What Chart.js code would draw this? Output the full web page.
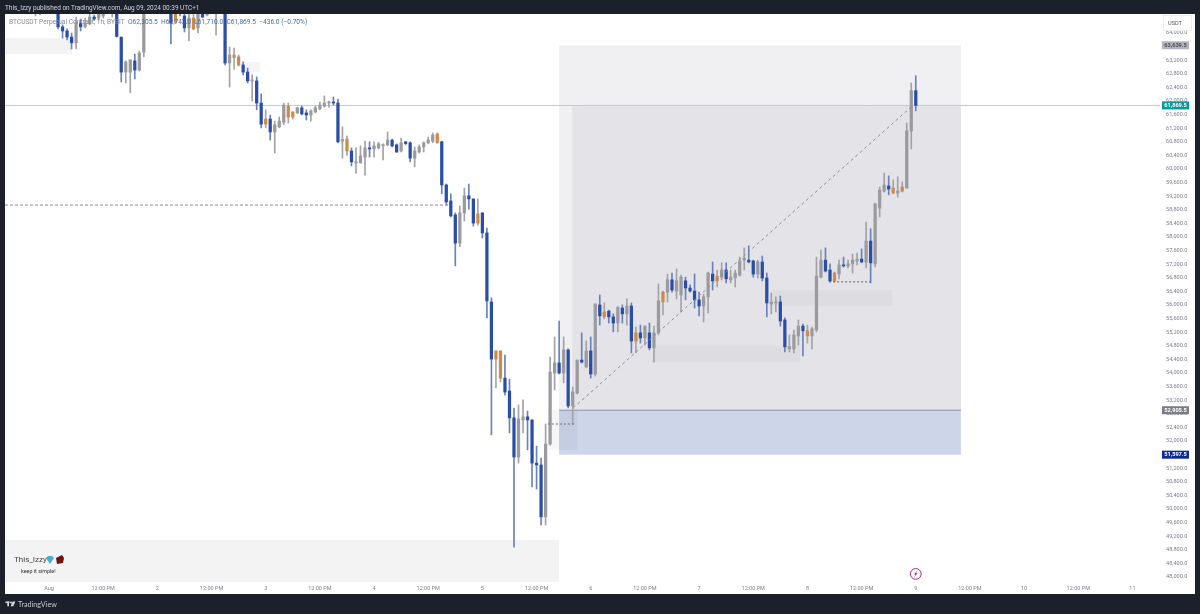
<!DOCTYPE html>
<html><head><meta charset="utf-8"><title>BTCUSDT</title>
<style>
html,body{margin:0;padding:0;background:#1c202b;width:1200px;height:614px;overflow:hidden;font-family:Roboto,sans-serif}
#c{position:absolute;left:0;top:0}
.t{position:absolute;white-space:nowrap;line-height:1}
</style>
<script src="https://cdn.jsdelivr.net/npm/chart.js@4/dist/chart.umd.min.js"></script>
</head><body>
<canvas id="c" width="1200" height="614"></canvas>
<div class="t" style="left:5px;top:4.5px;font-size:6.45px;color:#d1d4dc">This_Izzy published on TradingView.com, Aug 09, 2024 00:39 UTC+1</div>
<div class="t" style="left:9px;top:19px;font-size:6.6px;color:#858a99">BTCUSDT Perpetual Contract, 1h, BYBIT&nbsp;&nbsp;<span style="color:#4a68ad">O62,305.5&nbsp;&nbsp;H62,743.0&nbsp;&nbsp;L61,710.0&nbsp;&nbsp;C61,869.5&nbsp;&nbsp;−436.0 (−0.70%)</span></div>
<div class="t" style="left:14px;top:556px;font-size:8px;color:#444">This_Izzy</div>
<div class="t" style="left:21px;top:569px;font-size:5.4px;color:#333">keep it simple!</div>
<div class="t" style="left:18px;top:600.5px;font-size:7.2px;color:#c5c8d0;font-family:Lato,sans-serif">TradingView</div>
<script>
const firstHour = -3;
const kinds = ("ggnnn"+"bbbbgbggbg"+"gngbbggbgg"+"nnnnn"+"bobbgogbgn"+"gnbgoobbgb"+"bobgggoogb"+"bgggggbbgo"+"bgggbggggb"+"bgbbgggggo"+"bbbbggbbob"+"bboobbbggb"+"bbbgggbgbg"+"gbgbgbobbg"+"bgbobgbggo"+"gbggbbbbgg"+"bogbggggbb"+"gbbggbbggg"+"bogggbbogb"+"gggbgbgggb"+"ogoggb").split("");
const highs = [64800,64800,null,null,null,
64800,64240,64120,64000,64470,64410,64440,64600,64530,64700,
64700,null,64800,64800,63880,63180,63210,63380,63470,64800,
null,null,null,null,null,
64800,64800,64800,64600,64700,64700,64800,64800,64800,null,
64800,null,64800,63590,63560,63350,63150,62970,62770,62710,
62210,61740,61590,61410,61530,61940,61940,61680,61820,61850,
61740,61740,61850,61970,62150,62000,62120,62060,61240,60970,
60620,60620,60680,60820,60800,60800,60780,60740,61090,60880,
60740,60910,60800,60800,60650,60710,60800,60940,61060,61060,
60820,59560,59270,58710,58910,59440,59560,59120,59120,58710,
58265,56210,54650,54650,54530,53820,52970,53060,53210,52880,
52620,51850,51500,52500,54470,55060,55530,55060,54710,53590,
54380,55180,54940,55060,56030,56295,56060,55850,55740,55940,
56000,56180,56060,55350,55410,55380,55470,55380,56620,56410,
56910,56940,57060,56880,56820,56590,56910,56380,56320,56970,
57265,57030,57240,57240,57030,57030,57410,57680,57740,57320,
57320,57440,56940,56350,56240,56265,55620,55120,55265,55560,
55440,55410,55350,57410,57620,57680,57210,56970,57320,57410,
57320,57500,57530,57650,58440,58240,59000,59470,59880,59800,
59680,59770,59620,61350,62530,62743];
const bodyTops = [64800,64800,null,null,null,
64700,64180,64060,63880,64320,64290,64290,64470,64470,64560,
64600,null,64700,64700,63880,63150,63210,63180,63410,64700,
null,null,null,null,null,
64700,64700,64700,64500,64440,64440,64700,64700,64700,null,
64700,null,64700,63350,63350,63300,63060,62850,62620,62590,
61940,61470,61470,61300,61410,61880,61850,61680,61800,61800,
61650,61710,61800,61880,61940,61970,61970,61940,60870,60880,
60530,60210,60380,60620,60620,60680,60740,60720,60850,60850,
60710,60770,60800,60770,60530,60650,60770,60850,61000,61030,
60800,59530,59060,58650,58710,59210,59210,59120,58680,58710,
58120,56090,54650,54650,53850,53470,52680,52650,52710,52710,
52620,51350,51295,51910,54030,54295,54295,54680,54680,53440,
54380,54380,54650,54650,56030,56000,55795,55820,55650,55940,
55910,55970,55970,55180,55180,55380,55180,55180,56120,56380,
56740,56740,56710,56820,56710,56500,56410,56150,56240,56940,
56910,56850,57030,57030,56820,56940,57295,57380,57320,57295,
57265,57265,56795,56090,56090,56090,55560,54770,55120,55380,
55380,55240,55295,56850,57320,57320,57030,56940,57180,57180,
57210,57320,57350,57350,57880,57880,58970,59380,59530,59500,
59440,59350,59470,61120,62305,62305.5];
const bodyBottoms = [64700,64700,null,null,null,
64180,64060,63880,63710,63710,64180,64180,64270,64410,64440,
64500,null,64600,63900,62850,62850,62850,62910,62910,63440,
null,null,null,null,null,
64290,64320,64600,64150,64150,64120,64150,64470,64530,null,
64650,null,63120,63120,63280,63060,62850,62590,62590,61940,
61320,61320,61090,61090,61240,61380,61530,61530,61650,61620,
61590,61590,61680,61770,61850,61940,61940,60800,60820,60530,
60210,60180,60180,60350,60590,60590,60620,60690,60710,60680,
60500,60530,60750,60320,60320,60500,60650,60770,60820,60770,
59530,59030,58620,57820,57820,58710,59120,58410,58410,58120,
56120,54410,54410,53850,53440,52680,51530,51530,52620,52620,
51350,51295,49770,49770,51910,54000,54000,54000,53030,53030,
53410,54320,54180,53970,53970,55680,55650,55650,55470,55470,
55740,55740,54940,54940,55030,55030,54740,54740,55180,56090,
56380,56440,56410,56295,56500,56410,56150,55970,55970,56240,
56710,56710,56820,56770,56740,56795,56880,57320,57265,56910,
56910,56795,56060,56030,56060,55530,54770,54710,54710,55090,
55240,55090,55090,55265,56820,57000,56710,56710,56910,57150,
57150,57210,57295,57265,57265,57240,57210,58850,59350,59410,
59295,59295,59350,59440,61120,61869.5];
const lows = [64500,64530,null,null,null,
64120,63850,63800,63530,63530,64060,64150,64240,64380,64380,
64440,null,64470,63880,62560,62530,62240,62650,62880,63300,
null,null,null,null,null,
63680,64290,64500,64030,63770,64090,64000,64450,64500,null,
63940,null,63060,62410,62940,63030,62770,62530,62000,61740,
61210,61210,60850,60470,61210,61300,61350,61470,61630,61590,
61440,61410,61650,61740,61820,61820,61880,60770,60320,60410,
60090,59880,60170,59820,60350,60350,60590,60270,60680,60650,
60490,60500,60710,60210,60060,60470,60500,60740,60770,60760,
59270,58940,58590,57150,57710,58470,58820,58320,58350,57970,
55620,52180,53560,53740,53350,52240,48880,51350,52240,51740,
50650,50590,49530,49530,51880,53500,53970,53710,52970,52500,
53380,54295,54150,53850,53910,55410,55590,55470,55210,55210,
55470,55410,54590,54590,54880,54820,54680,54320,55120,55710,
56090,56380,56180,55795,56150,56380,55910,55680,55500,55770,
56440,56530,56740,56650,56650,56530,56850,57030,57240,56820,
56795,56710,55650,55740,55795,55380,54620,54620,54590,54820,
54500,54880,54710,55210,56795,56970,56680,56680,56770,57120,
57090,56940,57180,57240,57090,56650,57120,58590,59320,59240,
59270,59180,59320,59440,60590,61710];

const priceTicks = [48000,48400,48800,49200,49600,50000,50400,50800,51200,51600,52000,52400,52800,53200,53600,54000,54400,54800,55200,55600,56000,56400,56800,57200,57600,58000,58400,58800,59200,59600,60000,60400,60800,61200,61600,62000,62400,62800,63200,63600,64000];
const dayLabels = ["Aug","2","3","4","5","6","7","8","9","10","11"];
const halfDayLabel = "12:00 PM";
const timeTicks = [0,12,24,36,48,60,72,84,96,108,120,132,144,156,168,180,192,204,216,228,240];

const targetPrice = 63639.5, lastPrice = 61869.5, entryPrice = 52905.5, stopPrice = 51597.5;
const badgePrices = [targetPrice,lastPrice,entryPrice,stopPrice];
const badgeFills = ["#b4b5bc","#0b9a9a","#7b7d86","#0c2a94"];
const badgeInks = ["#4b4d55","#ffffff","#ffffff","#ffffff"];

// zones: [fromHour, toHour, upperPrice, lowerPrice, colour]
const zones = [
 [-9.75,5.1,63850,63380,"#f3f3f3"],
 [-9.75,113,49090,47800,"#f3f3f3"],
 [43,46.7,63150,62850,"#f5f5f5"],
 [110.5,113,52905.5,51740,"#f6f6f6"],
 [113,202,targetPrice,entryPrice,"#f0f0f2"],
 [115.9,202,lastPrice,entryPrice,"#e3e3e8"],
 [134.2,166.4,54795,54320,"#dcdce1"],
 [160.2,186.8,56440,55970,"#dcdce1"],
 [113,202,entryPrice,stopPrice,"#cdd5e8"],
 [113,117,entryPrice,51740,"#c4cde2"]
];

const bodyColors = {b:"#2a4da6",g:"#9a9a9f",o:"#cd8a49"};
const wickColors = {b:"#6a82bb",g:"#a2a2a7",o:"#a8a5a1"};

const wicks=[],bodies=[],wc=[],bc=[];
kinds.forEach((k,n)=>{
  if(k==="n"||highs[n]==null) return;
  const h=firstHour+n;
  wicks.push({x:h,y:[lows[n],highs[n]]}); wc.push(wickColors[k]);
  bodies.push({x:h,y:[bodyBottoms[n],bodyTops[n]]}); bc.push(bodyColors[k]);
});

const dline=(pts,color,dash,width,order)=>({type:"line",data:pts,borderColor:color,borderDash:dash,borderWidth:width,pointRadius:0,order,tension:0,fill:false});

const panel={
 id:"panel",
 beforeDraw(ch){
  const c=ch.ctx; c.save(); c.fillStyle="#fff"; c.fillRect(5,14,1190,580); c.restore();
 },
 beforeDatasetsDraw(ch){
  const c=ch.ctx,x=ch.scales.x,y=ch.scales.y,a=ch.chartArea;
  c.save(); c.beginPath(); c.rect(a.left,a.top,a.right-a.left,a.bottom-a.top); c.clip();
  zones.forEach(z=>{
    const l=x.getPixelForValue(z[0]),r=x.getPixelForValue(z[1]),t=y.getPixelForValue(z[2]),b=y.getPixelForValue(z[3]);
    c.fillStyle=z[4]; c.fillRect(l,t,r-l,b-t);
  });
  c.restore();
 },
 afterDraw(ch){
  const c=ch.ctx,y=ch.scales.y,x=ch.scales.x;
  c.save();
  // USDT box
  c.fillStyle="#fff"; c.strokeStyle="#eeeef0"; c.lineWidth=1;
  c.fillRect(1163,15,29,16); c.strokeRect(1163.5,15.5,28,15);
  c.fillStyle="#555"; c.font="5.6px Roboto"; c.textAlign="center"; c.textBaseline="middle";
  c.fillText("USDT",1175,24);
  // price badges
  badgePrices.forEach((p,i)=>{
    const py=y.getPixelForValue(p);
    c.fillStyle=badgeFills[i]; c.fillRect(1162,py-4,27,8);
    c.fillStyle=badgeInks[i]; c.font="bold 5.6px Roboto"; c.textAlign="center";
    c.fillText(p.toLocaleString("en-US",{minimumFractionDigits:1}),1175.5,py+0.3);
  });
  // bar-replay icon
  const ix=x.getPixelForValue(192), iy=y.getPixelForValue(48090);
  c.strokeStyle="#a62f86"; c.lineWidth=1; c.beginPath(); c.arc(ix,iy,5.4,0,Math.PI*2); c.stroke();
  c.fillStyle="#a62f86"; c.beginPath();
  c.moveTo(ix+1.6,iy-3.4);c.lineTo(ix-1.8,iy+0.6);c.lineTo(ix-0.2,iy+0.6);c.lineTo(ix-1.6,iy+3.4);c.lineTo(ix+1.8,iy-0.6);c.lineTo(ix+0.2,iy-0.6);c.closePath();c.fill();
  // badge emoji marks
  c.fillStyle="#3fb2d6"; c.beginPath(); c.moveTo(46,558);c.lineTo(48,556);c.lineTo(52,556);c.lineTo(54,558);c.lineTo(50,564);c.closePath();c.fill();
  c.fillStyle="#6d1310"; c.beginPath(); c.moveTo(56,558);c.lineTo(62,555);c.lineTo(64,558);c.lineTo(63,563);c.lineTo(57,564);c.closePath();c.fill();
  // logo
  c.fillStyle="#d1d4dc";
  c.fillRect(5.5,601.5,4,1.6); c.fillRect(7.3,601.5,1.7,4.8);
  c.beginPath(); c.arc(11,602.4,1,0,Math.PI*2); c.fill();
  c.beginPath(); c.moveTo(12.6,601.5);c.lineTo(15.4,601.5);c.lineTo(13.3,606.3);c.lineTo(10.6,606.3);c.closePath(); c.fill();
  c.restore();
 }
};

new Chart(document.getElementById("c"),{
 type:"bar",
 data:{datasets:[
  dline([{x:-9.75,y:lastPrice},{x:246.1,y:lastPrice}],"#a5d6da",[],1,5),
  dline([{x:113,y:entryPrice},{x:202,y:entryPrice}],"#8d94a8",[],1,5),
  {data:wicks,backgroundColor:wc,barThickness:1,grouped:false,order:3,borderSkipped:false},
  {data:bodies,backgroundColor:bc,barThickness:2.6,grouped:false,order:2,borderSkipped:false,minBarLength:1},
  dline([{x:-9.75,y:58940},{x:88.5,y:58940}],"#8b8b8b",[3,2],1,1),
  dline([{x:116.1,y:52970},{x:191.2,y:61850}],"#8e8e94",[3,3],1,1),
  dline([{x:110.5,y:52500},{x:116.3,y:52500}],"#6c6c70",[2,2],1,1),
  dline([{x:172.8,y:56680},{x:181.9,y:56680}],"#66666a",[2,2],1,1)
 ]},
 plugins:[panel],
 options:{
  responsive:false,animation:false,
  layout:{padding:{left:5,right:5,top:14,bottom:20}},
  plugins:{legend:{display:false},tooltip:{enabled:false},title:{display:false}},
  scales:{
   x:{type:"linear",offset:false,min:-9.75,max:246.1,position:"bottom",
      grid:{display:false,drawTicks:false,offset:false},border:{display:false},
      afterBuildTicks:s=>{s.ticks=timeTicks.map(v=>({value:v}));},
      afterFit:s=>{s.height=12;s.paddingLeft=0;s.paddingRight=0;},
      ticks:{autoSkip:false,maxRotation:0,padding:3,color:"#7d808b",font:{family:"Roboto",size:5.5},
        callback:v=>v%24===0?dayLabels[v/24]:halfDayLabel}},
   y:{type:"linear",position:"right",min:47853,max:64559,
      grid:{display:false,drawTicks:false},border:{display:false},
      afterBuildTicks:s=>{s.ticks=priceTicks.map(v=>({value:v}));},
      afterFit:s=>{s.width=35;s.paddingTop=0;s.paddingBottom=0;},
      ticks:{autoSkip:false,padding:6,color:"#7d808b",font:{family:"Roboto",size:5.6},
        callback:v=>Number(v).toLocaleString("en-US",{minimumFractionDigits:1})}}
  }
 }
});
</script>
</body></html>
